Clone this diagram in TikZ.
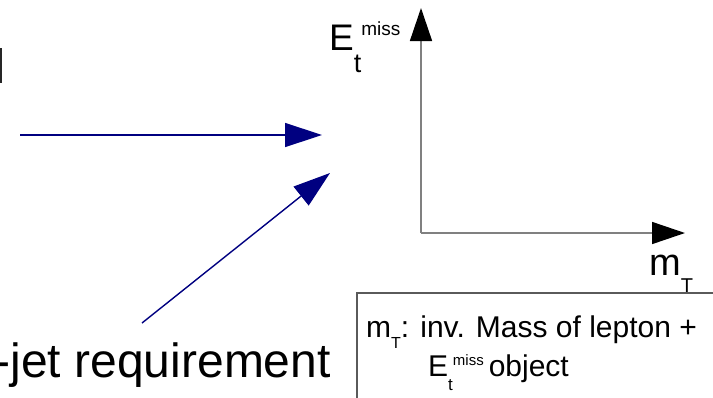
\documentclass[tikz,border=0pt]{standalone}
\usepackage{fontspec}
\setmainfont{Liberation Sans}
\usetikzlibrary{arrows.meta, positioning}
\definecolor{ptrblue}{HTML}{000080}
\definecolor{axisgray}{HTML}{808080}
\definecolor{framegray}{HTML}{5A5A5A}

\begin{document}
\begin{tikzpicture}[
    x=1pt, y=-1pt,
    txt/.style={anchor=base west, inner sep=0pt},
    ptr/.style={-{Triangle[length=37pt, width=24pt]}, ptrblue, line width=1.4pt},
    axis/.style={-{Triangle[length=33pt, width=22pt, color=black]}, axisgray, line width=1.5pt}
]
\useasboundingbox (0,0) rectangle (713,397);

% cut-off letter at the left edge
\fill[black!85] (0,48) rectangle (2,83);

% the two blue pointers
\coordinate (hstart) at (20,135);
\coordinate (hend) at (322,135);
\coordinate (dstart) at (142,323);
\coordinate (dend) at (330,173);
\draw[ptr] (hstart) -- (hend);
\draw[ptr] (dstart) -- (dend);

\node[txt, anchor=base east, font=\fontsize{48}{54}\selectfont] (jetreq) at (331,377) {-jet requirement};

% axes
\coordinate (origin) at (421,233);
\coordinate (ytip) at (421,8);
\coordinate (xtip) at (685,233);
\draw[axis] (origin) -- (ytip);
\draw[axis] (origin) -- (xtip);

\node[txt, font=\fontsize{37}{40}\selectfont] (ylab) at (329,50)
    {E\raisebox{-22pt}{\fontsize{27}{27}\selectfont t}\raisebox{15pt}{\fontsize{19}{19}\selectfont miss}};
\node[txt, font=\fontsize{38}{40}\selectfont] (xlab) at (649,275)
    {m\raisebox{-17pt}{\fontsize{20}{20}\selectfont T}};

% definition box
\coordinate (boxcorner) at (357,293);
\draw[framegray, line width=1.2pt] (boxcorner -| xtip) ++(40,0) -- (boxcorner) -- (boxcorner |- 0,400);
\node[txt, font=\fontsize{30}{34}\selectfont] (mtdef) at (366,337)
    {m\raisebox{-11pt}{\fontsize{16}{16}\selectfont T}: inv. Mass of lepton +};
\node[txt, font=\fontsize{30}{34}\selectfont] (etdef) at (428,376)
    {E\raisebox{-14pt}{\fontsize{17}{17}\selectfont t}\raisebox{11pt}{\fontsize{15}{15}\selectfont miss}\,object};
\end{tikzpicture}
\end{document}
